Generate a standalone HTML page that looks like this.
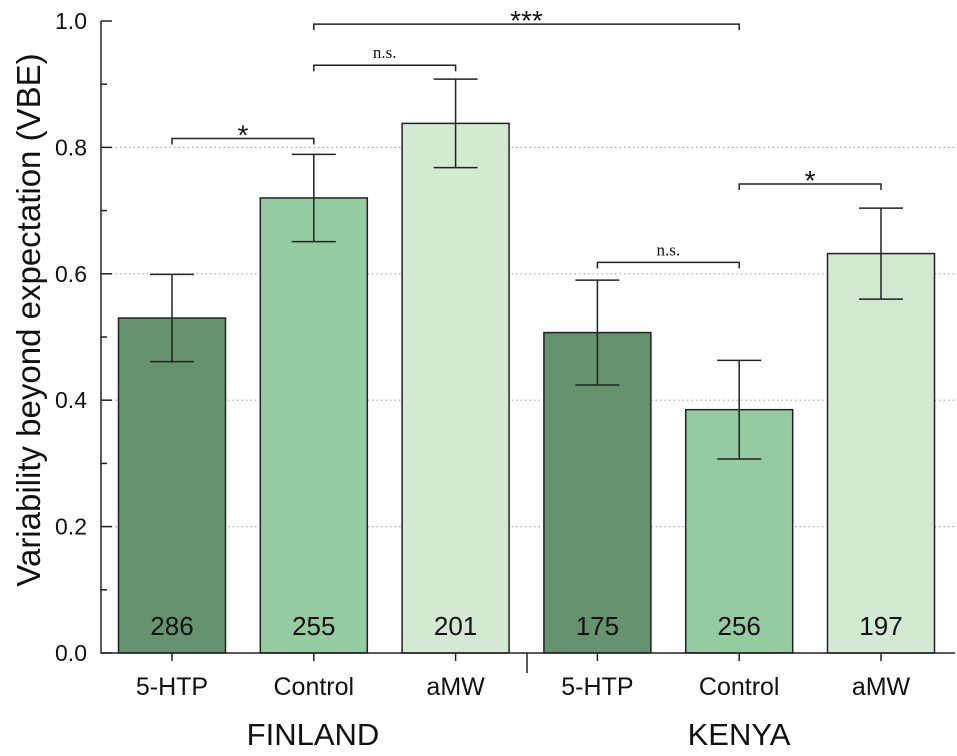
<!DOCTYPE html>
<html><head><meta charset="utf-8"><style>
body{margin:0;background:#fff}
svg text{fill:#111}
</style></head><body>
<svg id="c" width="957" height="751"></svg>
<script>
const categories=["5-HTP","Control","aMW","5-HTP","Control","aMW"];
const values=[0.530,0.720,0.838,0.507,0.385,0.632];
const errors=[0.069,0.069,0.070,0.083,0.078,0.072];
const counts=["286","255","201","175","256","197"];
const yTicks=[0.0,0.2,0.4,0.6,0.8,1.0];
const brackets=[[0,1,0.814,"*"],[1,2,0.93,"n.s."],[1,4,0.995,"***"],[3,4,0.618,"n.s."],[4,5,0.742,"*"]];
const colors=["#66936f","#95cba0","#d3e9d2"];
const svg=document.getElementById('c');const NS="http://www.w3.org/2000/svg";
const SANS='"Liberation Sans",Arial,sans-serif',SERIF='"Liberation Serif",serif';
function y(v){return 653-v*632;}
function x(i){return 172+i*141.8;}
function mk(t,a,txt){const e=document.createElementNS(NS,t);for(const k in a)e.setAttribute(k,a[k]);if(txt!==undefined)e.textContent=txt;svg.appendChild(e);return e;}
yTicks.forEach(v=>{if(v>0&&v<1){const g=mk('line',{x1:102,x2:955,y1:y(v),y2:y(v),stroke:'#aaa','stroke-dasharray':'1.5 3','stroke-width':1.2});

}});
values.forEach((v,i)=>{const c=x(i);
const r=mk('rect',{x:c-53.5,y:y(v),width:107,height:y(0)-y(v),fill:colors[i%3],stroke:'#222','stroke-width':1.5});


const e=errors[i];
const eb=mk('path',{d:`M${c},${y(v+e)}V${y(v-e)}M${c-22},${y(v+e)}H${c+22}M${c-22},${y(v-e)}H${c+22}`,stroke:'#222','stroke-width':1.5,fill:'none'});


const n=mk('text',{x:c,y:635,'text-anchor':'middle','font-size':26,'font-family':SANS},counts[i]);


const l=mk('text',{x:c,y:695,'text-anchor':'middle','font-size':25,'font-family':SANS},categories[i]);


mk('line',{x1:c,x2:c,y1:653,y2:661,stroke:'#222','stroke-width':1.5});
});
const ax=mk('path',{d:`M101,${y(1)}V653H955`,stroke:'#222','stroke-width':1.5,fill:'none'});


mk('line',{x1:527,x2:527,y1:653,y2:673,stroke:'#222','stroke-width':1.5});
for(let k=0;k<=10;k++){const v=k/10;mk('line',{x1:101,x2:k%2?107:112,y1:y(v),y2:y(v),stroke:'#222','stroke-width':1.5});}
yTicks.forEach(v=>{const t=mk('text',{x:87,y:y(v)+8,'text-anchor':'end','font-size':23,'font-family':SANS},v.toFixed(1));

});
const yt=mk('text',{x:0,y:0,'text-anchor':'middle','font-size':33,'font-family':SANS,transform:'translate(40,320) rotate(-90)'},'Variability beyond expectation (VBE)');


const g1=mk('text',{x:313,y:745,'text-anchor':'middle','font-size':31,'font-family':SANS},'FINLAND');


const g2=mk('text',{x:739,y:745,'text-anchor':'middle','font-size':31,'font-family':SANS},'KENYA');


brackets.forEach(b=>{const a=x(b[0]),c=x(b[1]),yy=y(b[2]);
const p=mk('path',{d:`M${a},${yy+6}V${yy}H${c}V${yy+6}`,stroke:'#222','stroke-width':1.5,fill:'none'});


const s=b[3]==="n.s.";
const t=mk('text',{x:(a+c)/2,y:yy-(s?7:-6),'text-anchor':'middle','font-size':s?17:28,'font-family':s?SERIF:SANS},b[3]);

});
</script>
</body></html>
